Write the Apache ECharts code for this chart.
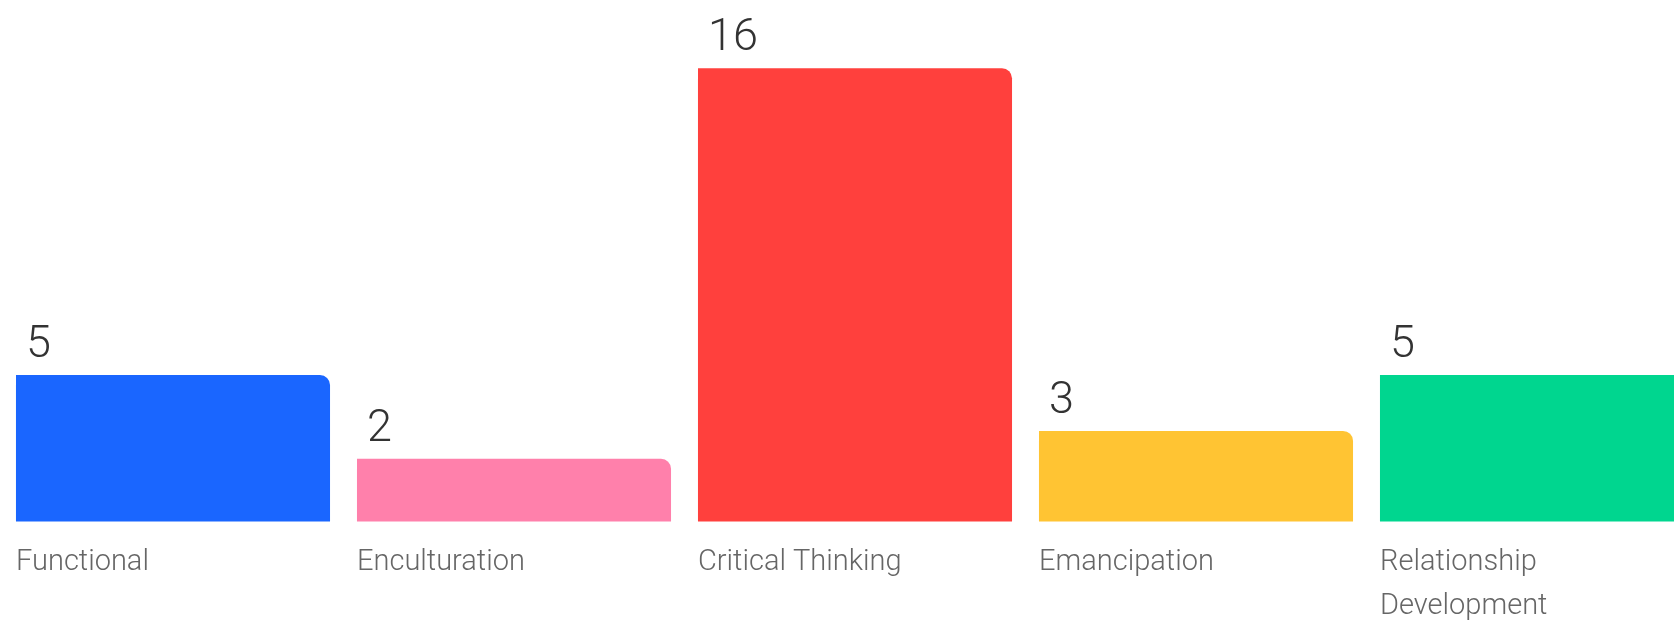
<!DOCTYPE html>
<html>
<head>
<meta charset="utf-8">
<title>Purposes</title>
<script src="https://cdn.jsdelivr.net/npm/echarts@6/dist/echarts.min.js"></script>
<style>
  html, body { margin: 0; padding: 0; background: #ffffff; }
  #chart { width: 1674px; height: 621px; }
</style>
</head>
<body>
<div id="chart"></div>
<script>
// Responses per category
const categories = ['Functional', 'Enculturation', 'Critical Thinking', 'Emancipation', 'Relationship Development'];
const counts = [5, 2, 16, 3, 5];
const barColors = ['#1a66ff', '#ff80ab', '#ff403d', '#ffc433', '#00d68f'];

const chart = echarts.init(document.getElementById('chart'), null, { renderer: 'canvas' });

const FONT = 'Roboto, "Open Sans", sans-serif';

chart.setOption({
  backgroundColor: '#ffffff',
  animation: false,
  // the last column runs past the right edge of the canvas
  grid: {
    left: 2.5, width: 1705, top: 68.2, height: 453.4,
    containLabel: false,
    outerBoundsMode: 'none'
  },
  xAxis: {
    type: 'category',
    data: categories,
    axisLine: { show: false },
    axisTick: { show: false },
    axisLabel: {
      interval: 0,
      margin: 19,
      width: 314,
      overflow: 'break',
      lineHeight: 44,
      formatter: v => '{t|' + v + '}',
      rich: {
        t: { align: 'left', fontFamily: FONT, fontWeight: 300, fontSize: 29, color: '#666666', lineHeight: 44 }
      }
    }
  },
  yAxis: {
    type: 'value',
    min: -0.25,
    max: 16,
    startValue: -0.25,
    show: false,
    splitLine: { show: false }
  },
  series: [{
    type: 'bar',
    data: counts.map((v, i) => ({ value: v, itemStyle: { color: barColors[i] } })),
    barCategoryGap: '7.9%',
    itemStyle: { borderRadius: [0, 10, 0, 0] },
    label: {
      show: true,
      position: 'top',
      distance: 6,
      width: 314,
      formatter: p => '{n|' + p.value + '}',
      rich: {
        n: { align: 'left', padding: [0, 0, 0, 10], fontFamily: FONT, fontWeight: 300, fontSize: 45, color: '#333333', lineHeight: 46 }
      }
    }
  }]
});
</script>
</body>
</html>
